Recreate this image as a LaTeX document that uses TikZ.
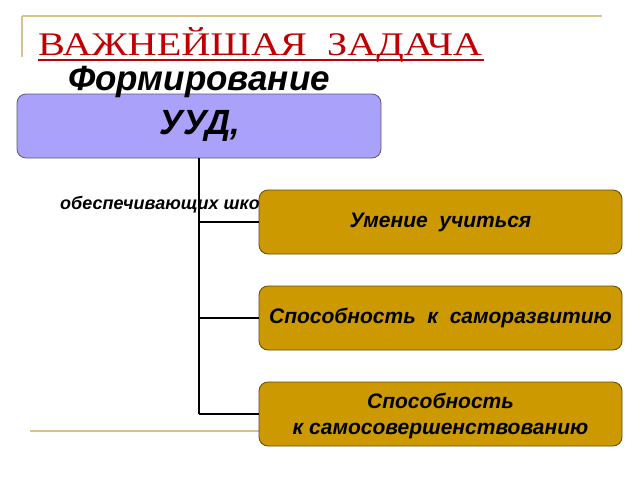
\documentclass[tikz,border=0pt]{standalone}
\usepackage{fontspec}
\setmainfont{Liberation Serif}
\setsansfont{Liberation Sans}
\definecolor{titlered}{RGB}{192,0,0}
\definecolor{deco}{RGB}{214,196,140}
\definecolor{lilac}{RGB}{170,161,250}
\definecolor{lilacborder}{RGB}{90,90,120}
\definecolor{gold}{RGB}{204,153,0}
\definecolor{goldborder}{RGB}{95,75,20}
\begin{document}
\begin{tikzpicture}[x=1pt,y=-1pt,
  topbox/.style={draw=lilacborder, fill=lilac, rounded corners=9pt, line width=0.8pt},
  bigtext/.style={font=\sffamily\bfseries\itshape\fontsize{35}{40}\selectfont, inner sep=0pt},
  goldbox/.style={draw=goldborder, fill=gold, rounded corners=9pt, line width=0.8pt, minimum width=363pt, minimum height=64pt, align=center, font=\sffamily\bfseries\itshape\fontsize{21}{26.5}\selectfont, inner sep=0pt},
  conn/.style={line width=1.8pt, black}]
\useasboundingbox (0,0) rectangle (640,480);
% decorative lines
\draw[deco, line width=1.5pt] (22,16) -- (602,16);
\draw[deco, line width=1.5pt] (22,16) -- (22,57);
\draw[deco, line width=1.5pt] (30,431) -- (600,431);
% title
\node[anchor=base west, inner sep=0pt, text=titlered, font=\fontsize{33}{38}\selectfont, xscale=1.22] (title) at (38,55) {ВАЖНЕЙШАЯ\ \ ЗАДАЧА};
\draw[titlered, line width=1.8pt] (38,60) -- (484,60);
% top box
\node[topbox, minimum width=364pt, minimum height=64pt, inner sep=0pt] (uud) at (199,126) {};
\node[bigtext] (formir) at (199,82) {Формирование};
\node[bigtext] (uudtext) at (200,126) {УУД,};
% small text
\node[anchor=base west, inner sep=0pt, font=\sffamily\bfseries\itshape\fontsize{18}{21}\selectfont] (obesp) at (60,209) {обеспечивающих школьникам};
% connectors
\coordinate (c1) at (199,222);
\coordinate (c2) at (199,318);
\coordinate (c3) at (199,414);
\draw[conn] (uud.south -| 199,0) -- (c3);
% gold boxes
\node[goldbox] (b1) at (440.5,222) {Умение\ \ учиться};
\node[goldbox] (b2) at (440.5,318) {Способность\ \ к\ \ саморазвитию};
\node[goldbox] (b3) at (440.5,414) {};
\node[align=center, inner sep=0pt, font=\sffamily\bfseries\itshape\fontsize{21}{26.5}\selectfont] (b3text) at (440.5,416) {Способность\\к самосовершенствованию};
\draw[conn] (c1) -- (b1.west);
\draw[conn] (c2) -- (b2.west);
\draw[conn] (c3) -- (b3.west);
\end{tikzpicture}
\end{document}
